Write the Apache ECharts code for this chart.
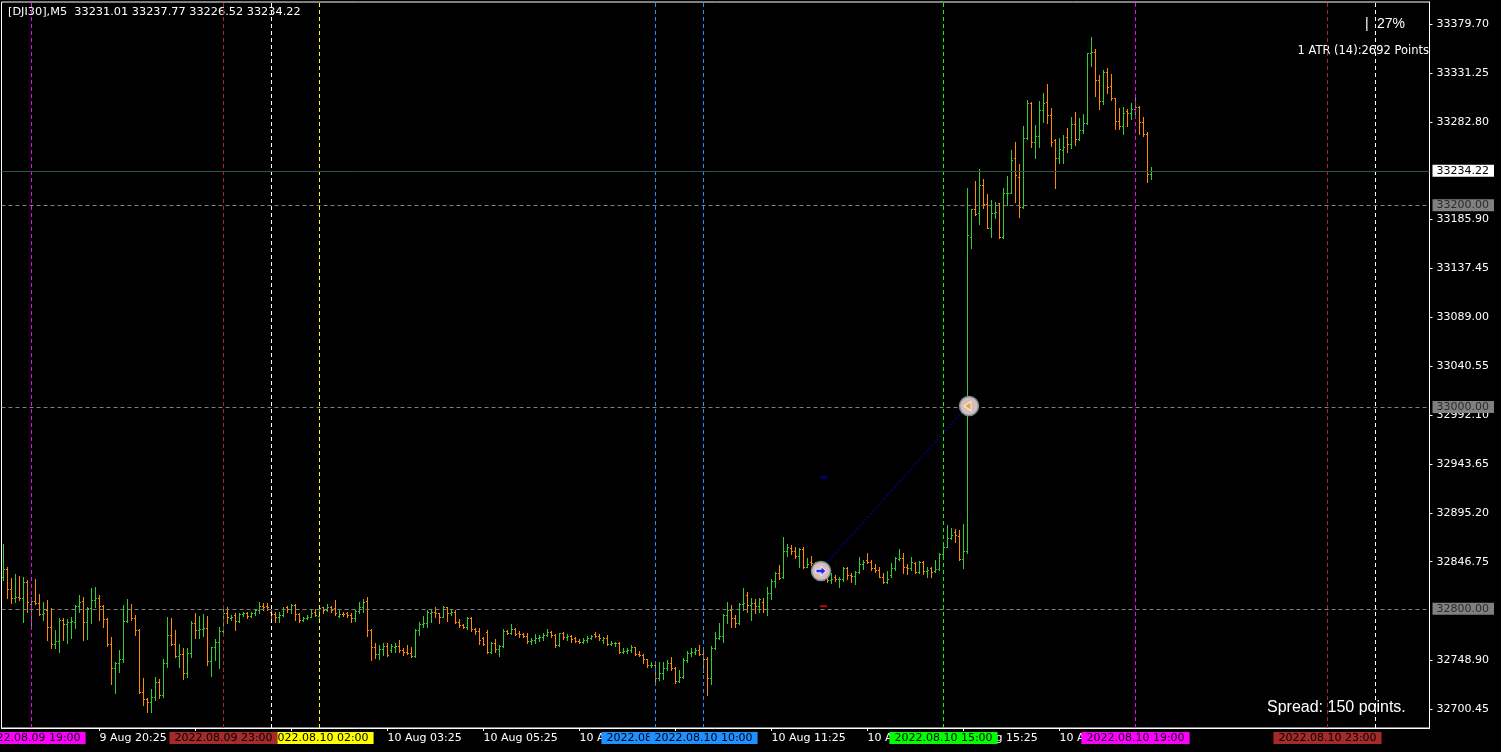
<!DOCTYPE html>
<html><head><meta charset="utf-8">
<script src="https://cdn.jsdelivr.net/npm/echarts@6/dist/echarts.min.js"></script>
<style>html,body{margin:0;padding:0;background:#000;}#c{width:1501px;height:752px;}</style>
</head><body><div id="c"></div>
<script>
// ---------- data ----------
const headerText = '[DJI30],M5  33231.01 33237.77 33226.52 33234.22';
// bars: [open, close, low, high] for consecutive M5 bars
const bars = [
[32831.9,32839.2,32828.6,32864.3],[32839.2,32819.4,32810.5,32841.9],[32819.4,32810.5,32806.2,32830.3],[32810.5,32812.1,32807.2,32834.6],
[32812.1,32810.5,32808.8,32832.6],[32810.5,32826.3,32787.3,32831.9],[32826.3,32807.2,32797.3,32828.6],[32804.9,32808.2,32782.4,32812.1],
[32807.8,32806.2,32804.9,32829.3],[32806.2,32794.6,32793.9,32814.4],[32794.6,32796.3,32789.0,32807.2],[32798.9,32781.7,32769.2,32808.8],
[32781.7,32765.2,32760.9,32800.6],[32765.2,32768.2,32760.9,32779.1],[32768.2,32789.0,32757.6,32790.6],[32789.0,32784.7,32769.2,32790.6],
[32784.7,32787.0,32765.9,32789.7],[32787.0,32787.7,32770.8,32791.6],[32787.3,32802.9,32780.7,32803.9],[32802.9,32807.2,32797.3,32813.8],
[32807.8,32787.3,32769.2,32812.1],[32787.3,32800.6,32769.8,32801.5],[32800.6,32808.8,32786.3,32821.0],[32808.8,32810.5,32801.5,32821.7],
[32810.5,32802.9,32789.0,32813.8],[32802.9,32789.7,32782.4,32803.9],[32789.7,32764.9,32763.2,32790.6],[32764.9,32741.1,32725.6,32771.8],
[32741.1,32746.7,32716.3,32747.7],[32746.7,32750.0,32737.8,32759.3],[32750.0,32788.3,32747.7,32803.9],[32788.3,32799.6,32787.3,32809.5],
[32799.6,32790.6,32789.0,32804.9],[32790.6,32779.1,32774.1,32793.9],[32779.1,32718.0,32716.3,32779.7],[32718.0,32710.4,32704.7,32731.2],
[32710.4,32707.4,32698.1,32711.3],[32707.4,32712.3,32698.1,32720.6],[32712.3,32727.5,32709.7,32732.8],[32727.5,32714.7,32711.3,32730.2],
[32714.7,32746.7,32713.0,32750.0],[32746.7,32774.1,32742.7,32791.6],[32774.1,32765.2,32764.2,32790.6],[32765.2,32753.6,32752.6,32779.1],
[32753.6,32755.3,32742.7,32765.2],[32755.3,32736.8,32730.5,32760.9],[32736.8,32756.6,32732.8,32760.9],[32756.6,32786.3,32752.6,32788.3],
[32786.3,32779.1,32770.8,32795.6],[32779.1,32779.7,32770.8,32793.0],[32779.7,32780.7,32773.1,32794.9],[32780.7,32748.7,32744.4,32793.0],
[32748.7,32761.9,32733.5,32762.5],[32761.9,32767.5,32749.3,32769.8],[32767.5,32778.4,32741.1,32782.4],[32778.4,32795.6,32775.8,32802.2],
[32795.6,32791.6,32785.7,32801.5],[32791.0,32791.6,32789.0,32793.9],[32793.9,32788.3,32779.1,32796.3],[32788.3,32794.9,32787.3,32795.6],
[32794.9,32796.3,32793.0,32797.3],[32796.3,32793.0,32790.6,32797.3],[32793.0,32796.3,32792.3,32797.3],[32796.3,32798.9,32793.9,32799.6],
[32798.9,32802.9,32795.6,32807.2],[32802.9,32801.5,32798.9,32805.5],[32802.9,32801.5,32798.9,32805.5],[32797.3,32794.9,32787.3,32798.9],
[32794.9,32792.3,32787.3,32797.3],[32792.3,32793.9,32787.3,32797.3],[32793.9,32799.6,32793.0,32801.5],[32801.5,32799.6,32797.3,32802.9],
[32799.6,32803.9,32795.6,32804.9],[32803.9,32794.9,32789.0,32804.9],[32794.9,32789.0,32787.3,32795.6],[32789.0,32790.6,32788.3,32791.6],
[32790.6,32792.3,32789.7,32793.9],[32792.3,32796.3,32791.6,32798.9],[32797.3,32793.9,32793.0,32799.6],[32793.0,32800.6,32788.3,32801.5],
[32801.5,32798.9,32796.3,32802.2],[32798.9,32802.2,32798.2,32804.9],[32802.2,32798.9,32797.3,32802.9],[32800.6,32795.6,32793.9,32808.8],
[32793.0,32794.9,32791.6,32799.6],[32794.9,32794.6,32793.0,32797.3],[32795.6,32793.9,32791.6,32797.3],[32793.9,32790.6,32787.3,32795.6],
[32790.6,32798.2,32788.3,32798.9],[32798.2,32802.2,32796.3,32807.2],[32802.2,32807.2,32797.3,32809.5],[32808.2,32779.1,32773.1,32812.1],
[32779.1,32761.9,32749.3,32779.7],[32761.9,32755.3,32751.0,32765.9],[32755.3,32759.9,32750.0,32764.2],[32759.9,32763.2,32754.3,32766.5],
[32763.2,32754.3,32753.3,32765.9],[32759.3,32763.2,32757.6,32765.2],[32761.9,32763.2,32757.6,32765.9],[32763.2,32759.3,32757.6,32769.2],
[32759.2,32757.5,32754.2,32760.8],[32757.5,32755.9,32755.2,32764.1],[32755.9,32753.6,32752.6,32762.5],[32753.6,32779.0,32752.6,32779.7],
[32779.0,32785.0,32774.1,32787.3],[32785.0,32786.3,32782.3,32792.9],[32786.3,32797.2,32782.3,32798.8],[32796.2,32797.2,32787.3,32799.5],
[32797.2,32795.5,32792.2,32801.5],[32795.5,32792.2,32786.3,32796.2],[32792.2,32801.5,32791.6,32802.8],[32801.5,32796.2,32788.3,32802.1],
[32796.2,32797.2,32793.9,32799.5],[32797.2,32787.3,32785.6,32798.8],[32787.3,32784.0,32782.3,32789.6],[32784.0,32782.3,32780.7,32785.0],
[32782.3,32790.6,32779.7,32792.2],[32790.6,32779.7,32778.4,32791.6],[32779.7,32778.4,32775.1,32780.7],[32778.4,32769.1,32765.1,32780.7],
[32770.8,32765.1,32764.1,32771.7],[32777.4,32757.5,32756.5,32779.0],[32757.5,32766.5,32756.5,32767.5],[32766.5,32759.9,32757.5,32769.8],
[32759.9,32763.2,32753.2,32764.1],[32763.2,32778.4,32762.5,32779.7],[32778.4,32776.4,32775.1,32779.0],[32776.4,32779.7,32775.1,32785.0],
[32779.7,32775.1,32774.1,32780.7],[32776.4,32775.1,32772.4,32778.4],[32775.1,32773.1,32771.7,32776.4],[32773.1,32768.4,32766.5,32776.4],
[32768.4,32769.1,32765.1,32770.8],[32769.1,32770.8,32766.5,32775.1],[32770.8,32772.4,32768.4,32774.1],[32772.4,32774.1,32769.1,32776.4],
[32774.1,32777.4,32773.1,32779.7],[32777.4,32774.1,32772.4,32778.4],[32774.1,32764.1,32761.8,32775.1],[32764.1,32775.7,32763.2,32776.4],
[32775.7,32771.7,32769.8,32777.4],[32771.7,32773.1,32769.1,32775.1],[32773.1,32769.8,32767.5,32774.1],[32770.8,32768.4,32767.5,32771.7],
[32768.4,32767.1,32765.8,32769.8],[32767.1,32769.1,32766.5,32770.8],[32769.1,32770.8,32767.5,32773.1],[32770.8,32773.1,32769.8,32774.1],
[32775.1,32773.1,32771.7,32777.4],[32773.1,32770.8,32769.1,32775.1],[32769.1,32770.8,32766.5,32771.7],[32770.8,32765.1,32764.1,32774.1],
[32765.1,32766.5,32764.1,32768.4],[32765.8,32766.1,32763.2,32767.5],[32765.8,32757.5,32756.5,32767.5],[32757.5,32758.5,32755.9,32760.8],
[32758.5,32759.2,32756.5,32760.8],[32759.2,32762.5,32757.5,32764.1],[32761.8,32755.2,32754.2,32762.5],[32755.2,32754.2,32753.2,32758.5],
[32754.2,32749.9,32746.0,32755.2],[32749.9,32744.3,32742.7,32750.6],[32744.0,32744.3,32742.7,32747.6],[32744.3,32731.1,32727.8,32746.0],
[32731.1,32736.1,32729.5,32747.6],[32736.1,32741.0,32730.1,32747.6],[32741.0,32746.0,32739.4,32749.3],[32746.0,32741.0,32739.4,32752.6],
[32741.0,32728.8,32726.8,32742.0],[32728.8,32732.1,32727.8,32739.4],[32732.1,32749.3,32731.1,32750.9],[32749.3,32755.9,32747.6,32758.5],
[32755.9,32757.5,32753.2,32760.8],[32757.5,32759.2,32755.2,32760.8],[32759.2,32755.2,32754.2,32764.1],[32755.2,32749.9,32737.7,32761.8],
[32749.9,32731.1,32714.6,32752.6],[32731.1,32760.8,32725.5,32763.2],[32760.8,32770.8,32759.9,32777.4],[32770.8,32773.1,32769.8,32786.3],
[32773.1,32793.9,32767.5,32794.9],[32793.9,32798.8,32785.6,32807.1],[32798.8,32790.6,32782.3,32803.8],[32790.6,32785.6,32782.3,32793.9],
[32785.6,32804.8,32785.0,32805.4],[32804.8,32805.4,32798.8,32820.3],[32813.7,32803.8,32797.2,32817.0],[32803.8,32806.1,32788.9,32810.4],
[32806.1,32802.8,32795.5,32809.4],[32802.8,32809.4,32797.2,32810.4],[32807.1,32799.5,32797.2,32810.4],[32799.5,32816.0,32793.9,32821.3],
[32816.0,32827.9,32809.4,32829.2],[32827.9,32835.2,32822.0,32836.8],[32835.2,32830.2,32829.2,32843.4],[32831.3,32857.7,32830.3,32871.6],
[32857.7,32861.7,32852.4,32864.3],[32860.0,32857.7,32854.4,32863.3],[32857.7,32852.4,32850.1,32861.7],[32852.4,32859.0,32841.2,32860.0],
[32859.0,32841.8,32840.2,32861.0],[32841.8,32844.5,32841.2,32850.1],[32846.8,32845.1,32843.5,32852.4],[32844.5,32836.9,32835.2,32846.8],
[32836.9,32838.5,32831.9,32843.5],[32838.5,32833.6,32829.3,32841.2],[32833.6,32828.6,32827.0,32836.9],[32828.6,32829.3,32825.3,32835.2],
[32831.3,32829.3,32828.0,32833.6],[32829.3,32830.0,32821.3,32831.3],[32829.3,32840.2,32828.0,32841.8],[32840.2,32833.6,32829.3,32841.8],
[32833.6,32832.6,32827.0,32835.2],[32832.6,32836.9,32824.6,32837.9],[32836.9,32844.5,32835.2,32851.8],[32844.5,32846.8,32839.2,32848.4],
[32848.4,32846.8,32845.8,32855.7],[32846.8,32840.2,32838.5,32848.4],[32840.2,32838.5,32836.9,32844.5],[32838.5,32831.9,32831.3,32841.8],
[32831.9,32827.0,32825.3,32835.2],[32827.0,32829.3,32826.0,32837.9],[32833.6,32840.2,32831.9,32845.1],[32840.2,32850.1,32838.5,32851.8],
[32849.1,32850.1,32848.4,32859.0],[32850.1,32841.2,32835.9,32855.7],[32841.2,32840.2,32834.6,32844.5],[32840.2,32846.8,32838.5,32851.8],
[32845.8,32836.9,32835.2,32846.8],[32836.9,32846.8,32835.2,32847.8],[32846.8,32837.9,32834.6,32847.8],[32837.9,32838.5,32831.9,32841.8],
[32840.2,32836.9,32831.9,32841.8],[32837.9,32839.2,32836.9,32848.4],[32839.2,32854.4,32838.5,32855.0],[32854.4,32861.7,32853.4,32862.3],
[32861.7,32869.9,32861.0,32883.1],[32869.9,32873.2,32868.9,32879.8],[32876.5,32873.2,32866.6,32878.8],[32872.2,32849.1,32848.4,32878.2],
[32849.1,32857.7,32840.2,32884.1],[32857.7,33170.6,32855.0,33216.8],[33168.9,33196.0,33158.0,33196.5],[33196.0,33191.4,33190.4,33224.1],
[33192.1,33220.2,33181.5,33236.0],[33220.2,33201.3,33197.7,33226.1],[33201.3,33177.9,33177.2,33211.2],[33177.9,33192.7,33168.3,33205.3],
[33192.7,33193.7,33187.1,33203.6],[33202.0,33168.3,33167.3,33202.6],[33168.3,33211.9,33167.6,33216.8],[33211.9,33212.6,33200.3,33229.4],
[33212.6,33244.9,33211.9,33254.8],[33246.6,33230.1,33203.6,33262.7],[33228.4,33198.0,33188.8,33241.0],[33198.0,33266.4,33197.7,33278.6],
[33266.4,33301.0,33265.7,33304.4],[33301.0,33263.1,33258.1,33302.7],[33263.1,33268.7,33246.6,33279.6],[33268.7,33294.4,33258.1,33303.7],
[33294.4,33301.7,33282.9,33311.0],[33302.7,33289.5,33281.9,33320.2],[33289.5,33263.1,33259.1,33296.1],[33264.7,33246.6,33217.5,33265.4],
[33246.6,33255.5,33242.3,33266.4],[33254.8,33257.4,33242.3,33269.7],[33268.0,33260.8,33253.2,33276.3],[33260.8,33280.6,33256.5,33287.2],
[33280.6,33265.4,33259.8,33292.5],[33265.4,33274.6,33264.7,33286.2],[33274.6,33281.2,33272.0,33290.5],[33281.2,33350.6,33280.6,33351.3],
[33350.6,33351.6,33338.1,33367.2],[33351.6,33324.2,33308.4,33354.9],[33324.2,33303.4,33295.4,33329.1],[33303.4,33332.4,33300.4,33334.1],
[33331.8,33316.9,33311.6,33336.4],[33318.2,33306.0,33304.4,33330.2],[33306.0,33283.6,33275.6,33306.7],[33283.6,33278.6,33275.6,33296.8],
[33278.6,33291.8,33270.7,33297.1],[33293.8,33291.8,33278.6,33295.4],[33291.1,33295.1,33285.2,33301.0],[33295.1,33297.1,33290.5,33308.4],
[33297.1,33282.2,33270.7,33298.4],[33282.2,33270.3,33269.0,33287.9],[33270.3,33230.7,33223.5,33272.3],[33231.01,33234.22,33226.52,33237.77]
];
const slotCount = 357;                     // bar slots shown on the time axis (incl. empty right margin)
const xTickIdx  = [24, 48, 72, 96, 120, 144, 168, 192, 216, 240, 264];
const xTickText = ['9 Aug 20:25','9 Aug 22:25','10 Aug 01:25','10 Aug 03:25','10 Aug 05:25','10 Aug 07:25',
                   '10 Aug 09:25','10 Aug 11:25','10 Aug 13:25','10 Aug 15:25','10 Aug 17:25'];
const yTickText = ['33379.70','33331.25','33282.80','33185.90','33137.45','33089.00','33040.55',
                   '32992.10','32943.65','32895.20','32846.75','32748.90','32700.45'];
const yMin = 32681.9, yMax = 33401.5;
// vertical time lines (bar slot index) and their labels
const vLineIdx  = [7, 79, 55, 67, 163, 175, 235, 283, 331, 343];
const vLineText = ['2022.08.09 19:00','2022.08.10 02:00','2022.08.09 23:00','','2022.08.10 09:00',
                   '2022.08.10 10:00','2022.08.10 15:00','2022.08.10 19:00','2022.08.10 23:00',''];
const hLevels = [33200.00, 33000.00, 32800.00];
const lastPrice = 33234.22;
const tradeEntry = [204, 32837.5];
const tradeExit  = [241, 33001.0];
const takeProfit = [205, 32930.4];
const stopLoss   = [205, 32802.6];
const atrText = '1 ATR (14):2692 Points';
const pctText = '27%';
const spreadText = 'Spread: 150 points.';

// ---------- styles ----------
const UP = '#32cd32', DOWN = '#ff8c00';
const vLineColors = ['#ff00ff','#ffff00','#a52a2a','#ffffff','#1e90ff','#1e90ff','#00ff00','#ff00ff','#a52a2a','#ffffff'];
const FONT = 'DejaVu Sans';

const cats = Array.from({length: slotCount}, (_, i) => i);
const tickSet = new Set(xTickIdx);
const ohlcData = bars.map((b, i) => [i, b[0], b[1], b[2], b[3]]);

const vLines = vLineIdx.map((idx, k) => ({
  xAxis: idx,
  lineStyle: {color: vLineColors[k], type: [4, 3], width: 1},
  label: vLineText[k] ? {
    show: true, position: 'start', distance: 4, formatter: vLineText[k],
    backgroundColor: vLineColors[k], color: '#000', padding: [1, 5, 0, 5],
    fontSize: 11, fontFamily: FONT
  } : {show: false}
}));
const hLines = hLevels.map(v => ({
  yAxis: v,
  lineStyle: {color: '#808080', type: [4, 3], width: 1},
  label: {show: true, position: 'end', distance: 3, formatter: v.toFixed(2),
          backgroundColor: '#808080', color: '#2a2a2a', padding: [1, 5, 0, 4], fontSize: 11, fontFamily: FONT}
}));
const priceLine = {
  yAxis: lastPrice,
  lineStyle: {color: '#2f5050', type: 'solid', width: 1},
  label: {show: true, position: 'end', distance: 3, formatter: lastPrice.toFixed(2),
          backgroundColor: '#ffffff', color: '#000', padding: [1, 5, 0, 4], fontSize: 11, fontFamily: FONT}
};

const chart = echarts.init(document.getElementById('c'), null, {renderer: 'canvas'});
chart.setOption({
  animation: false,
  backgroundColor: '#000',
  grid: {left: 1.5, right: 71.5, top: 2, bottom: 24, show: true, borderColor: '#ffffff', borderWidth: 1, backgroundColor: '#000'},
  xAxis: {
    type: 'category', data: cats, boundaryGap: true,
    axisLine: {show: true, lineStyle: {color: '#ffffff'}},
    axisTick: {show: true, alignWithLabel: true, length: 3, interval: (i) => tickSet.has(i), lineStyle: {color: '#ffffff'}},
    axisLabel: {show: true, interval: (i) => tickSet.has(i), align: 'left', margin: 5, color: '#ffffff',
                fontSize: 11, fontFamily: FONT,
                formatter: (v, i) => { const k = xTickIdx.indexOf(Number(v)); return k >= 0 ? xTickText[k] : ''; }},
    splitLine: {show: false}
  },
  yAxis: {
    type: 'value', position: 'right', min: yMin, max: yMax, scale: true,
    axisLine: {show: true, lineStyle: {color: '#ffffff'}},
    axisTick: {show: true, length: 3, customValues: yTickText.map(Number), lineStyle: {color: '#ffffff'}},
    axisLabel: {show: true, margin: 7, color: '#ffffff', fontSize: 11, fontFamily: FONT,
                customValues: yTickText.map(Number), formatter: v => v.toFixed(2)},
    splitLine: {show: false}
  },
  series: [
    {
      type: 'custom', name: 'bars', data: ohlcData, encode: {x: 0, y: [1, 2, 3, 4]},
      clip: false,
      renderItem: function (params, api) {
        const i = api.value(0);
        const o = api.coord([i, api.value(1)]);
        const c = api.coord([i, api.value(2)]);
        const l = api.coord([i, api.value(3)]);
        const h = api.coord([i, api.value(4)]);
        const x = Math.floor(o[0]);
        const col = api.value(2) >= api.value(1) ? UP : DOWN;
        const yh = Math.round(h[1]), yl = Math.round(l[1]);
        return {type: 'group', children: [
          {type: 'rect', shape: {x: x, y: yh, width: 1, height: Math.max(1, yl - yh + 1)}, style: {fill: col}},
          {type: 'rect', shape: {x: x - 1, y: Math.round(o[1]), width: 1, height: 1}, style: {fill: col}},
          {type: 'rect', shape: {x: x + 1, y: Math.round(c[1]), width: 1, height: 1}, style: {fill: col}}
        ]};
      },
      markLine: {silent: true, symbol: ['none', 'none'], animation: false, data: vLines.concat(hLines, [priceLine])},
      z: 3
    },
    {
      type: 'line', name: 'trade', data: [tradeEntry, tradeExit], symbol: 'none',
      lineStyle: {color: '#0000ff', width: 1, type: [2, 2]}, z: 4
    },
    {
      type: 'scatter', name: 'tradeCircles', data: [tradeEntry, tradeExit], symbol: 'circle', symbolSize: 19,
      symbolOffset: [1.5, 0],
      itemStyle: {color: '#d8bdbd', borderColor: '#7a8f8f', borderWidth: 1.5, opacity: 1}, z: 5
    },
    {
      type: 'scatter', name: 'entryArrow', data: [tradeEntry],
      symbol: 'path://M0,3 L5,3 L5,0 L10,5 L5,10 L5,7 L0,7 Z', symbolSize: [10, 9], symbolOffset: [1.5, 0],
      itemStyle: {color: '#0000ff', borderColor: '#ffffff', borderWidth: 1}, z: 6
    },
    {
      type: 'scatter', name: 'exitArrow', data: [tradeExit],
      symbol: 'path://M10,0 L10,10 L0,5 Z', symbolSize: [7, 9], symbolOffset: [0, 0],
      itemStyle: {color: '#e8a317', borderColor: '#ffffff', borderWidth: 1}, z: 6
    },
    {
      type: 'scatter', name: 'tp', data: [takeProfit], symbol: 'rect', symbolSize: [7, 2],
      itemStyle: {color: '#0000c0'}, z: 4
    },
    {
      type: 'scatter', name: 'sl', data: [stopLoss], symbol: 'rect', symbolSize: [7, 2],
      itemStyle: {color: '#ff0000'}, z: 4
    }
  ],
  graphic: [
    {type: 'text', x: 8, y: 12, style: {text: headerText, fill: '#ffffff', fontSize: 11.3, fontFamily: FONT, verticalAlign: 'middle'}},
    {type: 'text', x: 1365, y: 24, style: {text: '|', fill: '#ffffff', fontSize: 14, fontFamily: 'Liberation Sans', verticalAlign: 'middle'}},
    {type: 'text', x: 1377, y: 24, style: {text: pctText, fill: '#ffffff', fontSize: 14, fontFamily: 'Liberation Sans', verticalAlign: 'middle'}},
    {type: 'text', x: 1429, y: 51, style: {text: atrText, fill: '#ffffff', fontSize: 11.5, fontFamily: FONT, align: 'right', verticalAlign: 'middle'}},
    {type: 'text', x: 1267, y: 708, style: {text: spreadText, fill: '#ffffff', fontSize: 16, fontFamily: 'Liberation Sans', verticalAlign: 'middle'}}
  ]
});
</script>
</body></html>
